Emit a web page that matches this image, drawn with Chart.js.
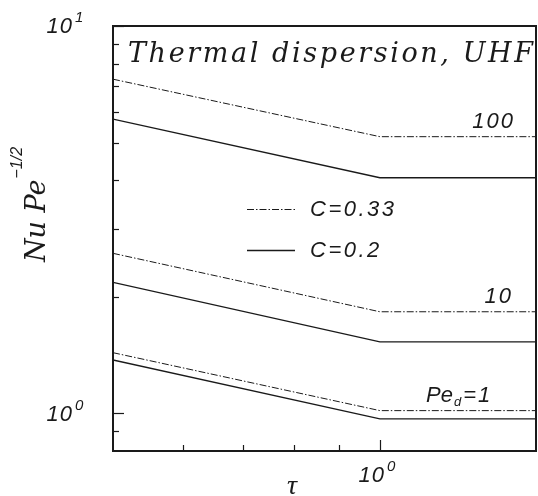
<!DOCTYPE html>
<html lang="en">
<head>
<meta charset="UTF-8">
<title>Thermal dispersion, UHF</title>
<script src="https://cdn.jsdelivr.net/npm/chart.js"></script>
<style>
  body { margin: 0; background: #fff; }
  .wrap { width: 538px; height: 496px; position: relative; }
</style>
</head>
<body>
<div class="wrap"><canvas id="nuChart"></canvas></div>
<script>
// tau values (log axis) and Nu Pe^-1/2 values
const tau = [0.5, 1, 1.5];
const c033Pe100 = [7.29, 5.18, 5.18];
const c02Pe100 = [5.75, 4.06, 4.06];
const c033Pe10 = [2.59, 1.83, 1.83];
const c02Pe10 = [2.18, 1.53, 1.53];
const c033Pe1 = [1.435, 1.017, 1.017];
const c02Pe1 = [1.374, 0.968, 0.968];

const legendLabels = ['C=0.33', 'C=0.2'];
const yMajorTicks = [1, 10];
const yMinorTicks = [0.9, 2, 3, 4, 5, 6, 7, 8, 9];
const xMajorTicks = [1];
const xMinorTicks = [0.6, 0.7, 0.8, 0.9];

const dashDot = [7, 2, 1.5, 2];
const ink = '#1a1a1a';
const sansIt = 'italic 22px "Liberation Sans", Arial, sans-serif';
const supIt = 'italic 15px "Liberation Sans", Arial, sans-serif';
const serifIt = 'italic 27px "DejaVu Serif", serif';

function pts(vals) {
  return tau.map((t, i) => ({ x: t, y: vals[i] }));
}
function ds(vals, dashed) {
  return {
    data: pts(vals),
    borderColor: ink,
    borderWidth: dashed ? 1 : 1.4,
    borderDash: dashed ? dashDot : [],
    pointRadius: 0,
    tension: 0,
    fill: false
  };
}

// draw text with a spacing between letters
function spaced(ctx, txt, x, y, sp) {
  if ('letterSpacing' in ctx) {
    ctx.letterSpacing = sp + 'px';
    ctx.fillText(txt, x, y);
    ctx.letterSpacing = '0px';
    return ctx.measureText(txt).width + sp * txt.length;
  }
  ctx.fillText(txt, x, y);
  return ctx.measureText(txt).width;
}

// "10" with a superscript, "10" right edge at x
function powLabel(ctx, exp, xRight, yMid) {
  ctx.font = sansIt;
  ctx.textAlign = 'right';
  ctx.textBaseline = 'middle';
  spaced(ctx, '10', xRight, yMid, 1);
  ctx.font = supIt;
  ctx.textAlign = 'left';
  ctx.fillText(exp, xRight + 2, yMid - 9);
}

const decor = {
  id: 'decor',
  afterDraw(chart) {
    const { ctx, chartArea: a, scales: { x, y } } = chart;
    ctx.save();
    ctx.fillStyle = ink;
    ctx.strokeStyle = ink;

    // frame
    ctx.lineWidth = 2;
    ctx.strokeRect(a.left, a.top, a.right - a.left, a.bottom - a.top);

    // inward ticks
    ctx.lineWidth = 1.2;
    const tickY = (v, len) => {
      const p = Math.round(y.getPixelForValue(v)) + 0.5;
      ctx.beginPath(); ctx.moveTo(a.left, p); ctx.lineTo(a.left + len, p); ctx.stroke();
    };
    const tickX = (v, len) => {
      const p = Math.round(x.getPixelForValue(v)) + 0.5;
      ctx.beginPath(); ctx.moveTo(p, a.bottom); ctx.lineTo(p, a.bottom - len); ctx.stroke();
    };
    yMinorTicks.forEach(v => tickY(v, 6));
    yMajorTicks.forEach(v => tickY(v, 11));
    xMinorTicks.forEach(v => tickX(v, 6));
    xMajorTicks.forEach(v => tickX(v, 11));

    // tick labels
    yMajorTicks.forEach(v => powLabel(ctx, String(Math.log10(v)), 73, y.getPixelForValue(v) + 1));
    xMajorTicks.forEach(v => powLabel(ctx, String(Math.log10(v)), x.getPixelForValue(v) + 5, 476));

    // x axis title
    ctx.font = 'italic 28px "Liberation Serif", serif';
    ctx.textAlign = 'center';
    ctx.textBaseline = 'alphabetic';
    ctx.fillText('\u03C4', 292, 494);

    // y axis title, rotated
    ctx.save();
    ctx.translate(45, 262);
    ctx.rotate(-Math.PI / 2);
    ctx.font = 'italic 27px "DejaVu Serif", serif';
    ctx.textAlign = 'left';
    const w = ctx.measureText('Nu Pe').width;
    ctx.fillText('Nu Pe', 0, 0);
    ctx.font = 'italic 16px "Liberation Sans", Arial, sans-serif';
    ctx.fillText('\u22121/2', w + 1, -23);
    ctx.restore();

    // title inside the frame
    ctx.font = serifIt;
    ctx.textAlign = 'left';
    const title = 'Thermal dispersion, UHF';
    const tw = ctx.measureText(title).width;
    const sp = Math.max(0, (405 - tw) / (title.length - 1));
    spaced(ctx, title, 128, 62, sp);

    // legend
    const legY = [209, 250];
    legendLabels.forEach((lab, i) => {
      const d = chart.data.datasets[i];
      ctx.lineWidth = d.borderWidth;
      ctx.setLineDash(d.borderDash);
      ctx.beginPath(); ctx.moveTo(247, legY[i] + 0.5); ctx.lineTo(295, legY[i] + 0.5); ctx.stroke();
      ctx.setLineDash([]);
      ctx.font = sansIt;
      ctx.textBaseline = 'middle';
      spaced(ctx, lab, 310, legY[i] + 1, 2.5);
    });

    // Pe labels above the C=0.33 curves
    ctx.font = sansIt;
    ctx.textBaseline = 'alphabetic';
    ctx.textAlign = 'right';
    const yA = y.getPixelForValue(c033Pe100[2]) - 9;
    const yB = y.getPixelForValue(c033Pe10[2]) - 9;
    const yC = y.getPixelForValue(c033Pe1[2]) - 9;
    ctx.letterSpacing = '2px';
    ctx.fillText('100', 515, yA);
    ctx.fillText('10', 513, yB);
    ctx.letterSpacing = '0px';
    // Pe_d=1
    ctx.textAlign = 'left';
    let px = 426;
    ctx.fillText('Pe', px, yC);
    px += ctx.measureText('Pe').width + 1;
    ctx.font = 'italic 13px "Liberation Sans", Arial, sans-serif';
    ctx.fillText('d', px, yC + 4);
    px += ctx.measureText('d').width + 2;
    ctx.font = sansIt;
    spaced(ctx, '=1', px, yC, 2);

    ctx.restore();
  }
};

new Chart(document.getElementById('nuChart'), {
  type: 'line',
  data: {
    datasets: [
      ds(c033Pe100, true), ds(c02Pe100, false),
      ds(c033Pe10, true), ds(c02Pe10, false),
      ds(c033Pe1, true), ds(c02Pe1, false)
    ]
  },
  options: {
    responsive: true,
    maintainAspectRatio: false,
    animation: false,
    layout: { padding: { left: 113, right: 2, top: 26, bottom: 45 } },
    plugins: { legend: { display: false }, tooltip: { enabled: false } },
    scales: {
      x: {
        type: 'logarithmic', min: 0.5, max: 1.5,
        ticks: { display: false }, grid: { display: false }, border: { display: false },
        afterFit(s) { s.height = 0; }
      },
      y: {
        type: 'logarithmic', min: 0.8, max: 10,
        ticks: { display: false }, grid: { display: false }, border: { display: false },
        afterFit(s) { s.width = 0; }
      }
    }
  },
  plugins: [decor]
});
</script>
</body>
</html>
